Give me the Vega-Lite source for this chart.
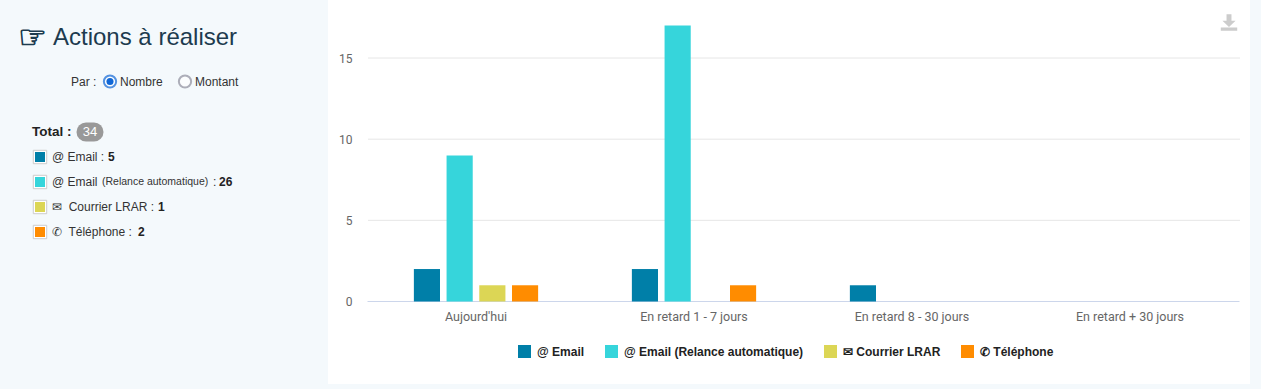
{
"$schema":"https://vega.github.io/schema/vega-lite/v6.json",
"background":"#f4f9fc",
"padding":{"left":0,"top":0,"right":11,"bottom":5},
"spacing":0,
"config":{"view":{"stroke":null},"concat":{"spacing":0},"font":"Liberation Sans"},
"datasets":{
"summary":[
{"series":"@ Email","label":"@ Email :","value":5},
{"series":"@ Email (Relance automatique)","label":"@ Email","value":26},
{"series":"✉ Courrier LRAR","label":"✉\u00a0 Courrier LRAR :","value":1},
{"series":"✆ Téléphone","label":"✆\u00a0 Téléphone :","value":2}
],
"actions":[
{"periode":"Aujourd'hui","series":"@ Email","nombre":2},
{"periode":"Aujourd'hui","series":"@ Email (Relance automatique)","nombre":9},
{"periode":"Aujourd'hui","series":"✉ Courrier LRAR","nombre":1},
{"periode":"Aujourd'hui","series":"✆ Téléphone","nombre":1},
{"periode":"En retard 1 - 7 jours","series":"@ Email","nombre":2},
{"periode":"En retard 1 - 7 jours","series":"@ Email (Relance automatique)","nombre":17},
{"periode":"En retard 1 - 7 jours","series":"✉ Courrier LRAR","nombre":0},
{"periode":"En retard 1 - 7 jours","series":"✆ Téléphone","nombre":1},
{"periode":"En retard 8 - 30 jours","series":"@ Email","nombre":1},
{"periode":"En retard 8 - 30 jours","series":"@ Email (Relance automatique)","nombre":0},
{"periode":"En retard 8 - 30 jours","series":"✉ Courrier LRAR","nombre":0},
{"periode":"En retard 8 - 30 jours","series":"✆ Téléphone","nombre":0},
{"periode":"En retard + 30 jours","series":"@ Email","nombre":0},
{"periode":"En retard + 30 jours","series":"@ Email (Relance automatique)","nombre":0},
{"periode":"En retard + 30 jours","series":"✉ Courrier LRAR","nombre":0},
{"periode":"En retard + 30 jours","series":"✆ Téléphone","nombre":0}
]
},
"hconcat":[
{
"width":328,"height":384,
"resolve":{"scale":{"x":"independent","y":"independent","color":"independent"},"axis":{"x":"independent","y":"independent"}},
"layer":[
{"data":{"values":[{"t":"Actions à réaliser"}]},
 "mark":{"type":"text","align":"left","baseline":"middle","fontSize":24,"color":"#1d3b4f","dx":53},
 "encoding":{"text":{"field":"t"},
 "x":{"datum":0,"type":"quantitative","scale":{"domain":[0,1],"range":[0,1]},"axis":null},
 "y":{"field":"t","type":"nominal","scale":{"type":"point","domain":["Actions à réaliser","Par"],"range":[37.5,81.5],"padding":0},"axis":null}}},
{"data":{"values":[{"t":"☞"}]},
 "mark":{"type":"text","align":"left","baseline":"middle","fontSize":32,"font":"DejaVu Sans","color":"#1d3b4f","stroke":"#1d3b4f","strokeWidth":0.9,"dx":18},
 "encoding":{"text":{"field":"t"},
 "x":{"datum":0,"type":"quantitative","scale":{"domain":[0,1],"range":[0,1]},"axis":null},
 "y":{"datum":"Actions à réaliser","type":"nominal","scale":{"type":"point","domain":["Actions à réaliser","Par"],"range":[37.5,81.5],"padding":0},"axis":null}}},
{"data":{"values":[{"opt":"Par :","txt":"Par :"}]},
 "mark":{"type":"text","align":"left","baseline":"middle","fontSize":12,"color":"#333333","dx":36},
 "encoding":{"text":{"field":"txt"},
 "x":{"field":"opt","type":"nominal","scale":{"type":"point","domain":["Par :","Nombre","Montant"],"range":[35,185],"padding":0},"axis":null},
 "y":{"datum":"Par","type":"nominal","scale":{"type":"point","domain":["Actions à réaliser","Par"],"range":[37.5,81.5],"padding":0},"axis":null}}},
{"data":{"values":[{"opt":"Nombre","sel":true},{"opt":"Montant","sel":false}]},
 "mark":{"type":"point","shape":"circle","size":150,"filled":false,"fill":"white","strokeWidth":2},
 "encoding":{
 "x":{"field":"opt","type":"nominal","scale":{"type":"point","domain":["Par :","Nombre","Montant"],"range":[35,185],"padding":0},"axis":null},
 "y":{"datum":"Par","type":"nominal","scale":{"type":"point","domain":["Actions à réaliser","Par"],"range":[37.5,81.5],"padding":0},"axis":null},
 "stroke":{"field":"sel","type":"nominal","scale":{"domain":[true,false],"range":["#1067d6","#8f8f9d"]},"legend":null}}},
{"data":{"values":[{"opt":"Nombre"}]},
 "mark":{"type":"point","shape":"circle","size":50,"filled":true,"color":"#1067d6","opacity":1},
 "encoding":{
 "x":{"field":"opt","type":"nominal","scale":{"type":"point","domain":["Par :","Nombre","Montant"],"range":[35,185],"padding":0},"axis":null},
 "y":{"datum":"Par","type":"nominal","scale":{"type":"point","domain":["Actions à réaliser","Par"],"range":[37.5,81.5],"padding":0},"axis":null}}},
{"data":{"values":[{"opt":"Nombre"},{"opt":"Montant"}]},
 "mark":{"type":"text","align":"left","baseline":"middle","fontSize":12,"color":"#333333","dx":10},
 "encoding":{"text":{"field":"opt"},
 "x":{"field":"opt","type":"nominal","scale":{"type":"point","domain":["Par :","Nombre","Montant"],"range":[35,185],"padding":0},"axis":null},
 "y":{"datum":"Par","type":"nominal","scale":{"type":"point","domain":["Actions à réaliser","Par"],"range":[37.5,81.5],"padding":0},"axis":null}}},
{"data":{"values":[{"series":"Total","t":"Total :"}]},
 "mark":{"type":"text","align":"left","baseline":"middle","fontSize":13.5,"fontWeight":"bold","color":"#222222","dx":-8},
 "encoding":{"text":{"field":"t"},
 "x":{"datum":"swatch","type":"nominal","scale":{"type":"point","domain":["swatch","label"],"range":[40,52],"padding":0},"axis":null},
 "y":{"field":"series","type":"nominal","scale":{"type":"point","domain":["Total","@ Email","@ Email (Relance automatique)","✉ Courrier LRAR","✆ Téléphone"],"range":[132,232],"padding":0},"axis":null}}},
{"data":{"values":[{"series":"Total"}]},
 "mark":{"type":"rule","strokeWidth":19,"strokeCap":"round","color":"#999999"},
 "encoding":{
 "x":{"datum":0,"type":"quantitative","scale":{"domain":[0,1],"range":[86,94]},"axis":null},
 "x2":{"datum":1},
 "y":{"field":"series","type":"nominal","scale":{"type":"point","domain":["Total","@ Email","@ Email (Relance automatique)","✉ Courrier LRAR","✆ Téléphone"],"range":[132,232],"padding":0},"axis":null}}},
{"data":{"values":[{"series":"Total","total":34}]},
 "mark":{"type":"text","align":"center","baseline":"middle","fontSize":13,"color":"white"},
 "encoding":{"text":{"field":"total","type":"nominal"},
 "x":{"datum":0,"type":"quantitative","scale":{"domain":[0,1],"range":[90,100]},"axis":null},
 "y":{"field":"series","type":"nominal","scale":{"type":"point","domain":["Total","@ Email","@ Email (Relance automatique)","✉ Courrier LRAR","✆ Téléphone"],"range":[132,232],"padding":0},"axis":null}}},
{"data":{"name":"summary"},
 "mark":{"type":"point","shape":"square","size":180,"filled":true,"fill":"white","stroke":"#cccccc","strokeWidth":1,"opacity":1},
 "encoding":{
 "x":{"datum":"swatch","type":"nominal","scale":{"type":"point","domain":["swatch","label"],"range":[40,52],"padding":0},"axis":null},
 "y":{"field":"series","type":"nominal","scale":{"type":"point","domain":["Total","@ Email","@ Email (Relance automatique)","✉ Courrier LRAR","✆ Téléphone"],"range":[132,232],"padding":0},"axis":null}}},
{"data":{"name":"summary"},
 "mark":{"type":"point","shape":"square","size":100,"filled":true,"opacity":1},
 "encoding":{
 "x":{"datum":"swatch","type":"nominal","scale":{"type":"point","domain":["swatch","label"],"range":[40,52],"padding":0},"axis":null},
 "y":{"field":"series","type":"nominal","scale":{"type":"point","domain":["Total","@ Email","@ Email (Relance automatique)","✉ Courrier LRAR","✆ Téléphone"],"range":[132,232],"padding":0},"axis":null},
 "color":{"field":"series","type":"nominal","scale":{"domain":["@ Email","@ Email (Relance automatique)","✉ Courrier LRAR","✆ Téléphone"],"range":["#007fa8","#36d5db","#dcd655","#ff8c00"]},"legend":null}}},
{"data":{"name":"summary"},
 "mark":{"type":"text","align":"left","baseline":"middle","fontSize":12,"color":"#333333"},
 "encoding":{"text":{"field":"label"},
 "x":{"datum":"label","type":"nominal","scale":{"type":"point","domain":["swatch","label"],"range":[40,52],"padding":0},"axis":null},
 "y":{"field":"series","type":"nominal","scale":{"type":"point","domain":["Total","@ Email","@ Email (Relance automatique)","✉ Courrier LRAR","✆ Téléphone"],"range":[132,232],"padding":0},"axis":null}}},
{"data":{"values":[{"series":"@ Email (Relance automatique)","t":"(Relance automatique)"}]},
 "mark":{"type":"text","align":"left","baseline":"middle","fontSize":10.5,"color":"#333333","dx":50},
 "encoding":{"text":{"field":"t"},
 "x":{"datum":"label","type":"nominal","scale":{"type":"point","domain":["swatch","label"],"range":[40,52],"padding":0},"axis":null},
 "y":{"field":"series","type":"nominal","scale":{"type":"point","domain":["Total","@ Email","@ Email (Relance automatique)","✉ Courrier LRAR","✆ Téléphone"],"range":[132,232],"padding":0},"axis":null}}},
{"data":{"values":[{"series":"@ Email (Relance automatique)","t":":"}]},
 "mark":{"type":"text","align":"left","baseline":"middle","fontSize":12,"color":"#333333","dx":161},
 "encoding":{"text":{"field":"t"},
 "x":{"datum":"label","type":"nominal","scale":{"type":"point","domain":["swatch","label"],"range":[40,52],"padding":0},"axis":null},
 "y":{"field":"series","type":"nominal","scale":{"type":"point","domain":["Total","@ Email","@ Email (Relance automatique)","✉ Courrier LRAR","✆ Téléphone"],"range":[132,232],"padding":0},"axis":null}}},
{"data":{"name":"summary"},"transform":[{"filter":"datum.series === '@ Email'"}],
 "mark":{"type":"text","align":"left","baseline":"middle","fontSize":12,"fontWeight":"bold","color":"#222222","dx":56},
 "encoding":{"text":{"field":"value","type":"nominal"},
 "x":{"datum":"label","type":"nominal","scale":{"type":"point","domain":["swatch","label"],"range":[40,52],"padding":0},"axis":null},
 "y":{"field":"series","type":"nominal","scale":{"type":"point","domain":["Total","@ Email","@ Email (Relance automatique)","✉ Courrier LRAR","✆ Téléphone"],"range":[132,232],"padding":0},"axis":null}}},
{"data":{"name":"summary"},"transform":[{"filter":"datum.value === 26"}],
 "mark":{"type":"text","align":"left","baseline":"middle","fontSize":12,"fontWeight":"bold","color":"#222222","dx":167},
 "encoding":{"text":{"field":"value","type":"nominal"},
 "x":{"datum":"label","type":"nominal","scale":{"type":"point","domain":["swatch","label"],"range":[40,52],"padding":0},"axis":null},
 "y":{"field":"series","type":"nominal","scale":{"type":"point","domain":["Total","@ Email","@ Email (Relance automatique)","✉ Courrier LRAR","✆ Téléphone"],"range":[132,232],"padding":0},"axis":null}}},
{"data":{"name":"summary"},"transform":[{"filter":"datum.value === 1"}],
 "mark":{"type":"text","align":"left","baseline":"middle","fontSize":12,"fontWeight":"bold","color":"#222222","dx":106},
 "encoding":{"text":{"field":"value","type":"nominal"},
 "x":{"datum":"label","type":"nominal","scale":{"type":"point","domain":["swatch","label"],"range":[40,52],"padding":0},"axis":null},
 "y":{"field":"series","type":"nominal","scale":{"type":"point","domain":["Total","@ Email","@ Email (Relance automatique)","✉ Courrier LRAR","✆ Téléphone"],"range":[132,232],"padding":0},"axis":null}}},
{"data":{"name":"summary"},"transform":[{"filter":"datum.value === 2"}],
 "mark":{"type":"text","align":"left","baseline":"middle","fontSize":12,"fontWeight":"bold","color":"#222222","dx":86},
 "encoding":{"text":{"field":"value","type":"nominal"},
 "x":{"datum":"label","type":"nominal","scale":{"type":"point","domain":["swatch","label"],"range":[40,52],"padding":0},"axis":null},
 "y":{"field":"series","type":"nominal","scale":{"type":"point","domain":["Total","@ Email","@ Email (Relance automatique)","✉ Courrier LRAR","✆ Téléphone"],"range":[132,232],"padding":0},"axis":null}}}
]
},
{
"width":922,"height":384,
"view":{"fill":"white","stroke":null},
"resolve":{"scale":{"x":"independent","y":"independent"},"axis":{"x":"independent","y":"independent"}},
"layer":[
{"data":{"values":[{"tick":5},{"tick":10},{"tick":15}]},
 "mark":{"type":"rule","color":"#e6e6e6","strokeWidth":1},
 "encoding":{
 "x":{"datum":0,"type":"quantitative","scale":{"domain":[0,1],"range":[40,912]},"axis":null},
 "x2":{"datum":1},
 "y":{"field":"tick","type":"quantitative","scale":{"domain":[0,15],"range":[301.5,58],"nice":false},"axis":null}}},
{"data":{"name":"actions"},
 "mark":{"type":"bar"},
 "encoding":{
 "x":{"field":"periode","type":"nominal","sort":null,
  "scale":{"type":"band","domain":["Aujourd'hui","En retard 1 - 7 jours","En retard 8 - 30 jours","En retard + 30 jours"],"range":[39,911],"paddingInner":0.4,"paddingOuter":0.2},
  "axis":{"title":null,"orient":"bottom","offset":-83,"labelAngle":0,"ticks":false,"domainColor":"#ccd6eb","labelColor":"#666666","labelFont":"Roboto","labelFontSize":12.5,"labelPadding":9,"labelLimit":200}},
 "xOffset":{"field":"series","type":"nominal","sort":null,
  "scale":{"domain":["@ Email","@ Email (Relance automatique)","✉ Courrier LRAR","✆ Téléphone"],"paddingInner":0.2,"paddingOuter":0.1}},
 "y":{"field":"nombre","type":"quantitative",
  "scale":{"domain":[0,15],"range":[301.5,58],"nice":false},
  "axis":{"title":null,"orient":"left","offset":-40,"values":[0,5,10,15],"domain":false,"ticks":false,"grid":false,"labelColor":"#666666","labelFont":"Roboto","labelFontSize":12,"labelPadding":16}},
 "color":{"field":"series","type":"nominal",
  "scale":{"domain":["@ Email","@ Email (Relance automatique)","✉ Courrier LRAR","✆ Téléphone"],"range":["#007fa8","#36d5db","#dcd655","#ff8c00"]},
  "legend":{"title":null,"orient":"none","legendX":518,"legendY":345,"direction":"horizontal","columns":4,"symbolType":"square","symbolSize":169,"symbolStrokeWidth":0,"labelFont":"Liberation Sans","labelFontSize":12,"labelFontWeight":"bold","labelColor":"#222222","labelLimit":300,"columnPadding":20,"labelOffset":6,"gridAlign":"none"}}}},
{"data":{"values":[{"icone":"download"}]},
 "mark":{"type":"point","filled":true,"opacity":1,"color":"#cccccc","size":270,"shape":"M-0.3,-1 L0.3,-1 L0.3,-0.2 L0.8,-0.2 L0,0.55 L-0.8,-0.2 L-0.3,-0.2 Z M-1,0.6 L1,0.6 L1,1 L-1,1 Z"},
 "encoding":{
 "x":{"datum":1,"type":"quantitative","scale":{"domain":[0,1],"range":[0,901]},"axis":null},
 "y":{"datum":1,"type":"quantitative","scale":{"domain":[0,1],"range":[0,22.5]},"axis":null}}}
]
}
]
}
